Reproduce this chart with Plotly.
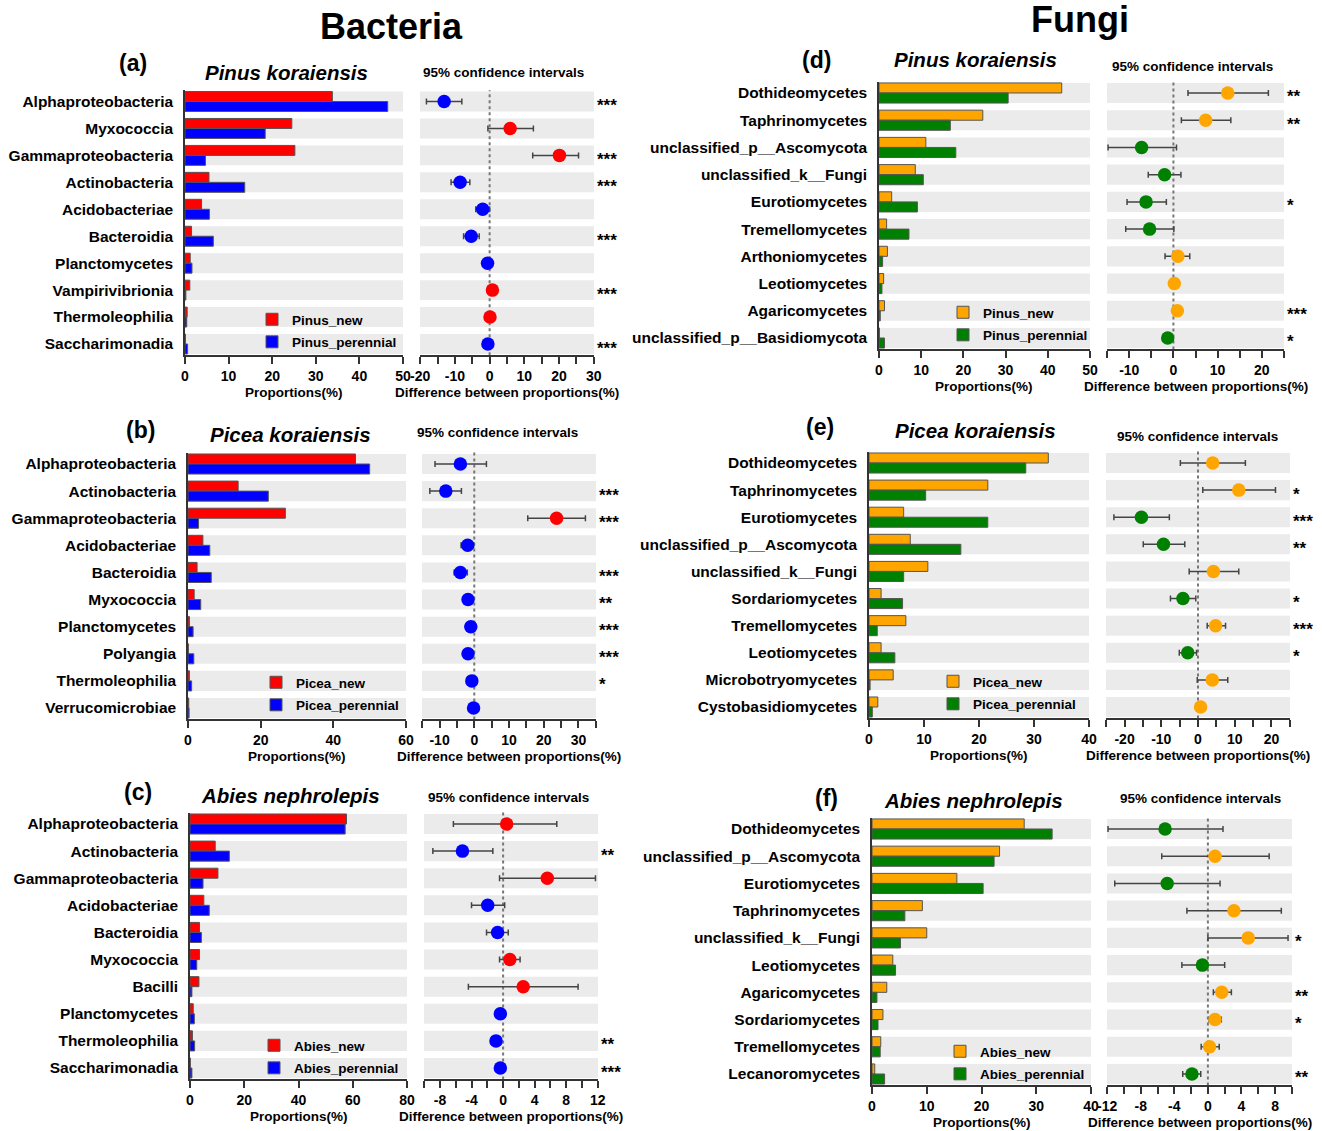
import plotly.graph_objects as go

W, H = 1322, 1131

# ---------------- data ----------------
a_cats = ["Alphaproteobacteria", "Myxococcia", "Gammaproteobacteria", "Actinobacteria", "Acidobacteriae",
          "Bacteroidia", "Planctomycetes", "Vampirivibrionia", "Thermoleophilia", "Saccharimonadia"]
a_new = [33.8, 24.5, 25.2, 5.5, 3.8, 1.5, 1.2, 1.1, 0.5, 0.1]
a_per = [46.5, 18.4, 4.7, 13.7, 5.6, 6.5, 1.6, 0.2, 0.4, 0.6]
a_diff = [-13.1, 5.9, 20.1, -8.5, -2.0, -5.3, -0.6, 0.8, 0.1, -0.5]
a_lo = [-18.2, -0.5, 12.4, -11.1, -4.0, -7.5, -0.9, 0.5, -0.2, -0.8]
a_hi = [-8.0, 12.6, 25.6, -5.7, 0.0, -3.0, -0.3, 1.1, 0.4, -0.2]
a_sig = ["***", "", "***", "***", "", "***", "", "***", "", "***"]

b_cats = ["Alphaproteobacteria", "Actinobacteria", "Gammaproteobacteria", "Acidobacteriae", "Bacteroidia",
          "Myxococcia", "Planctomycetes", "Polyangia", "Thermoleophilia", "Verrucomicrobiae"]
b_new = [46.1, 13.8, 26.8, 4.1, 2.5, 1.7, 0.4, 0.1, 0.4, 0.2]
b_per = [50.0, 22.1, 2.9, 6.0, 6.4, 3.5, 1.4, 1.6, 1.0, 0.3]
b_diff = [-4.0, -8.2, 23.7, -1.9, -4.0, -1.8, -1.0, -1.8, -0.7, -0.2]
b_lo = [-11.3, -12.8, 15.4, -3.8, -5.8, -2.1, -1.3, -2.1, -1.0, -0.4]
b_hi = [3.5, -3.7, 32.0, -0.2, -2.0, -1.5, -0.7, -1.5, -0.4, 0.0]
b_sig = ["", "***", "***", "", "***", "**", "***", "***", "*", ""]

c_cats = ["Alphaproteobacteria", "Actinobacteria", "Gammaproteobacteria", "Acidobacteriae", "Bacteroidia",
          "Myxococcia", "Bacilli", "Planctomycetes", "Thermoleophilia", "Saccharimonadia"]
c_new = [57.7, 9.3, 10.3, 5.1, 3.5, 3.5, 3.3, 1.2, 0.9, 0.1]
c_per = [57.2, 14.5, 4.8, 7.1, 4.2, 2.5, 0.7, 1.6, 1.7, 0.7]
c_diff = [0.45, -5.15, 5.6, -1.95, -0.7, 0.85, 2.55, -0.35, -0.9, -0.35]
c_lo = [-6.3, -8.9, -0.45, -4.0, -2.1, -0.45, -4.4, -0.6, -1.2, -0.55]
c_hi = [6.8, -1.3, 11.7, 0.2, 0.65, 2.15, 9.5, -0.1, -0.6, -0.15]
c_sig = ["", "**", "", "", "", "", "", "", "**", "***"]

d_cats = ["Dothideomycetes", "Taphrinomycetes", "unclassified_p__Ascomycota", "unclassified_k__Fungi",
          "Eurotiomycetes", "Tremellomycetes", "Arthoniomycetes", "Leotiomycetes", "Agaricomycetes",
          "unclassified_p__Basidiomycota"]
d_new = [43.3, 24.6, 11.1, 8.6, 3.0, 1.8, 2.0, 1.1, 1.3, 0.1]
d_per = [30.6, 16.9, 18.2, 10.5, 9.1, 7.1, 0.85, 0.7, 0.3, 1.3]
d_diff = [12.3, 7.3, -7.2, -2.0, -6.2, -5.4, 1.0, 0.2, 0.9, -1.3]
d_lo = [3.3, 1.8, -14.8, -5.7, -10.5, -10.8, -1.9, -0.1, 0.6, -1.6]
d_hi = [21.5, 13.0, 0.7, 1.7, -1.6, 0.1, 3.7, 0.5, 1.2, -1.0]
d_sig = ["**", "**", "", "", "*", "", "", "", "***", "*"]

e_cats = ["Dothideomycetes", "Taphrinomycetes", "Eurotiomycetes", "unclassified_p__Ascomycota",
          "unclassified_k__Fungi", "Sordariomycetes", "Tremellomycetes", "Leotiomycetes",
          "Microbotryomycetes", "Cystobasidiomycetes"]
e_new = [32.6, 21.6, 6.3, 7.5, 10.7, 2.2, 6.7, 2.2, 4.4, 1.6]
e_per = [28.5, 10.3, 21.6, 16.7, 6.3, 6.1, 1.5, 4.7, 0.2, 0.6]
e_diff = [4.0, 11.1, -15.4, -9.4, 4.2, -4.1, 4.8, -2.8, 3.9, 0.7]
e_lo = [-4.8, 1.3, -22.9, -14.9, -2.4, -7.5, 2.5, -5.1, -0.2, 0.4]
e_hi = [12.9, 21.1, -7.8, -3.6, 11.1, -0.6, 7.5, -0.4, 8.1, 1.0]
e_sig = ["", "*", "***", "**", "", "*", "***", "*", "", ""]

f_cats = ["Dothideomycetes", "unclassified_p__Ascomycota", "Eurotiomycetes", "Taphrinomycetes",
          "unclassified_k__Fungi", "Leotiomycetes", "Agaricomycetes", "Sordariomycetes",
          "Tremellomycetes", "Lecanoromycetes"]
f_new = [27.8, 23.3, 15.5, 9.2, 10.0, 3.8, 2.7, 2.0, 1.6, 0.5]
f_per = [32.9, 22.3, 20.3, 6.0, 5.2, 4.3, 0.9, 1.1, 1.5, 2.3]
f_diff = [-5.1, 0.85, -4.85, 3.1, 4.8, -0.65, 1.65, 0.85, 0.2, -1.9]
f_lo = [-11.9, -5.5, -11.1, -2.5, 0.0, -3.1, 0.65, 0.15, -0.8, -3.0]
f_hi = [1.8, 7.3, 1.45, 8.75, 9.55, 2.0, 2.8, 1.6, 1.35, -0.85]
f_sig = ["", "", "", "", "*", "", "**", "*", "", "**"]

BAC_NEW, BAC_PER = "#FF0000", "#0000FF"
FUN_NEW, FUN_PER = "#FFA500", "#008000"

panels = [
    dict(label="(a)", species="Pinus koraiensis", new="Pinus_new", per="Pinus_perennial",
         cats=a_cats, vnew=a_new, vper=a_per, diff=a_diff, lo=a_lo, hi=a_hi, sig=a_sig,
         cnew=BAC_NEW, cper=BAC_PER, brange=[0, 50], bdtick=10, crange=[-20, 30], cdtick=10, cminor=5,
         bx=(185, 403), cx=(420, 594), rows=(101.5, 344),
         lab_xy=(133, 63), sp_xy=(286, 72), ci_xy=(503, 73), leg=(292, 320)),
    dict(label="(b)", species="Picea koraiensis", new="Picea_new", per="Picea_perennial",
         cats=b_cats, vnew=b_new, vper=b_per, diff=b_diff, lo=b_lo, hi=b_hi, sig=b_sig,
         cnew=BAC_NEW, cper=BAC_PER, brange=[0, 60], bdtick=20, crange=[-15, 35], cdtick=10, cminor=5,
         bx=(188, 406), cx=(422, 596), rows=(464, 708),
         lab_xy=(140, 430), sp_xy=(290, 435), ci_xy=(497, 433), leg=(296, 683)),
    dict(label="(c)", species="Abies nephrolepis", new="Abies_new", per="Abies_perennial",
         cats=c_cats, vnew=c_new, vper=c_per, diff=c_diff, lo=c_lo, hi=c_hi, sig=c_sig,
         cnew=BAC_NEW, cper=BAC_PER, brange=[0, 80], bdtick=20, crange=[-10, 12], cdtick=4, cminor=2,
         bx=(190, 407), cx=(424, 598), rows=(824, 1068),
         lab_xy=(138, 792), sp_xy=(290, 795), ci_xy=(508, 797), leg=(294, 1046)),
    dict(label="(d)", species="Pinus koraiensis", new="Pinus_new", per="Pinus_perennial",
         cats=d_cats, vnew=d_new, vper=d_per, diff=d_diff, lo=d_lo, hi=d_hi, sig=d_sig,
         cnew=FUN_NEW, cper=FUN_PER, brange=[0, 50], bdtick=10, crange=[-15, 25], cdtick=10, cminor=5,
         bx=(879, 1090), cx=(1107, 1284), rows=(93, 338),
         lab_xy=(816, 60), sp_xy=(975, 60), ci_xy=(1192, 67), leg=(983, 313)),
    dict(label="(e)", species="Picea koraiensis", new="Picea_new", per="Picea_perennial",
         cats=e_cats, vnew=e_new, vper=e_per, diff=e_diff, lo=e_lo, hi=e_hi, sig=e_sig,
         cnew=FUN_NEW, cper=FUN_PER, brange=[0, 40], bdtick=10, crange=[-25, 25], cdtick=10, cminor=5,
         bx=(869, 1089), cx=(1106, 1290), rows=(463, 707),
         lab_xy=(820, 427), sp_xy=(975, 430), ci_xy=(1197, 436), leg=(973, 682)),
    dict(label="(f)", species="Abies nephrolepis", new="Abies_new", per="Abies_perennial",
         cats=f_cats, vnew=f_new, vper=f_per, diff=f_diff, lo=f_lo, hi=f_hi, sig=f_sig,
         cnew=FUN_NEW, cper=FUN_PER, brange=[0, 40], bdtick=10, crange=[-12, 10], cdtick=4, cminor=2,
         bx=(872, 1091), cx=(1107, 1292), rows=(829, 1074),
         lab_xy=(826, 798), sp_xy=(973, 800), ci_xy=(1200, 798), leg=(980, 1052)),
]

FONT = "Liberation Sans, Arial, sans-serif"
AX = "#333333"
BAND = "#EBEBEB"
HALF = 0.37   # half band height in row units
PAD = 0.42    # half range padding
TSZ = 13.5    # small title size

fig = go.Figure()
layout = dict(
    width=W, height=H, margin=dict(l=0, r=0, t=0, b=0, autoexpand=False),
    paper_bgcolor="white", plot_bgcolor="white",
    font=dict(family=FONT, color="black", size=13, weight="bold"),
    showlegend=True, barmode="overlay",
)
shapes, annotations = [], []


def px2x(px):
    return px / W


def px2y(py):
    return 1 - py / H


def fmt(v):
    return f"{v:g}"


for k, p in enumerate(panels):
    n = len(p["cats"])
    ib, ic = 2 * k + 1, 2 * k + 2
    xb = "x" if ib == 1 else f"x{ib}"
    yb = "y" if ib == 1 else f"y{ib}"
    xc, yc = f"x{ic}", f"y{ic}"
    r0, r1 = p["rows"]
    sp = (r1 - r0) / (n - 1)
    top, bot = r0 - PAD * sp, r1 + PAD * sp
    ydom = [px2y(bot), px2y(top)]
    pos = list(range(n))
    legname = "legend" if k == 0 else f"legend{k + 1}"

    # bars
    fig.add_trace(go.Bar(y=pos, x=p["vnew"], orientation="h", name=p["new"], width=HALF, offset=-HALF,
                         marker=dict(color=p["cnew"], line=dict(color="#555555", width=1)),
                         xaxis=xb, yaxis=yb, legend=legname, legendgroup=f"n{k}", hoverinfo="x+name"))
    fig.add_trace(go.Bar(y=pos, x=p["vper"], orientation="h", name=p["per"], width=HALF, offset=0,
                         marker=dict(color=p["cper"], line=dict(color="#555555", width=1)),
                         xaxis=xb, yaxis=yb, legend=legname, legendgroup=f"p{k}", hoverinfo="x+name"))
    # CI points
    cols = [p["cnew"] if d > 0 else p["cper"] for d in p["diff"]]
    fig.add_trace(go.Scatter(
        x=p["diff"], y=pos, mode="markers", showlegend=False, xaxis=xc, yaxis=yc,
        marker=dict(color=cols, size=13.5, line=dict(width=0)),
        error_x=dict(type="data", symmetric=False,
                     array=[h - d for h, d in zip(p["hi"], p["diff"])],
                     arrayminus=[d - l for d, l in zip(p["diff"], p["lo"])],
                     color="#444444", thickness=1.5, width=3)))

    yax = dict(domain=ydom, range=[n - 1 + PAD, -PAD], tickvals=pos, ticktext=p["cats"],
               showgrid=False, zeroline=False, fixedrange=True, automargin=False)
    layout["yaxis" if ib == 1 else f"yaxis{ib}"] = dict(
        yax, anchor=xb, showline=True, linecolor=AX, linewidth=1.5, ticks="",
        ticklabelstandoff=7, tickfont=dict(size=15.5, family=FONT, weight="bold"))
    layout[f"yaxis{ic}"] = dict(yax, anchor=xc, showticklabels=False, showline=False, ticks="")

    bt = list(range(p["brange"][0], p["brange"][1] + 1, p["bdtick"]))
    layout["xaxis" if ib == 1 else f"xaxis{ib}"] = dict(
        domain=[px2x(p["bx"][0]), px2x(p["bx"][1])], anchor=yb, range=p["brange"],
        tickvals=bt, ticktext=[fmt(v) for v in bt], automargin=False,
        showline=True, linecolor=AX, linewidth=1.5, ticks="outside",
        ticklen=7, tickwidth=1.5, tickcolor=AX, showgrid=False, zeroline=False,
        tickfont=dict(size=14, family=FONT, weight="bold"))
    lo_r, hi_r = p["crange"]
    ct = [v for v in range(lo_r, hi_r + 1) if v % p["cdtick"] == 0]
    eps = 0.001 * (hi_r - lo_r)
    layout[f"xaxis{ic}"] = dict(
        domain=[px2x(p["cx"][0]), px2x(p["cx"][1])], anchor=yc, automargin=False,
        range=[lo_r - eps, hi_r + eps], tickvals=ct, ticktext=[fmt(v) for v in ct],
        showline=True, linecolor=AX, linewidth=1.5, ticks="outside", ticklen=7, tickwidth=1.5,
        tickcolor=AX, showgrid=False, zeroline=False,
        minor=dict(tickvals=[v for v in range(lo_r, hi_r + 1) if v % p["cminor"] == 0],
                   ticks="outside", ticklen=7, tickwidth=1.5, tickcolor=AX),
        tickfont=dict(size=14, family=FONT, weight="bold"))

    # background bands
    for i in pos:
        for xr, yr in ((xb, yb), (xc, yc)):
            shapes.append(dict(type="rect", xref=f"{xr} domain", yref=yr, x0=0, x1=1,
                               y0=i - HALF, y1=i + HALF, fillcolor=BAND, line=dict(width=0),
                               layer="below"))
    # zero dashed line
    shapes.append(dict(type="line", xref=xc, yref=f"{yc} domain", x0=0, x1=0, y0=0, y1=1,
                       line=dict(color="#777777", width=2, dash="dot"), layer="below"))

    # significance stars
    for i, s in zip(pos, p["sig"]):
        if s:
            annotations.append(dict(text=s, xref=f"{xc} domain", yref=yc, x=1, y=i, xanchor="left",
                                    yanchor="middle", xshift=1, yshift=-4, showarrow=False,
                                    font=dict(size=17, family=FONT, weight="bold")))
    # axis titles
    annotations.append(dict(text="Proportions(%)", xref=f"{xb} domain", yref=f"{yb} domain", x=0.5, y=0,
                            xanchor="center", yanchor="middle", yshift=-37, showarrow=False,
                            font=dict(size=TSZ, family=FONT, weight="bold")))
    annotations.append(dict(text="Difference between proportions(%)", xref=f"{xc} domain",
                            yref=f"{yc} domain", x=0.5, y=0, xanchor="center", yanchor="middle",
                            yshift=-37, showarrow=False, font=dict(size=TSZ, family=FONT, weight="bold")))
    # panel titles
    annotations.append(dict(text=p["label"], xref="paper", yref="paper", x=px2x(p["lab_xy"][0]),
                            y=px2y(p["lab_xy"][1]), xanchor="center", yanchor="middle", showarrow=False,
                            font=dict(size=23, family=FONT, weight="bold")))
    annotations.append(dict(text=p["species"], xref="paper", yref="paper", x=px2x(p["sp_xy"][0]),
                            y=px2y(p["sp_xy"][1]), xanchor="center", yanchor="middle", showarrow=False,
                            font=dict(size=20.5, family=FONT, weight="bold", style="italic")))
    annotations.append(dict(text="95% confidence intervals", xref="paper", yref="paper",
                            x=px2x(p["ci_xy"][0]), y=px2y(p["ci_xy"][1]), xanchor="center",
                            yanchor="middle", showarrow=False,
                            font=dict(size=TSZ, family=FONT, weight="bold")))
    # legend
    layout[legname] = dict(x=px2x(p["leg"][0] - 40), y=px2y(p["leg"][1] - 16), xanchor="left",
                           yanchor="top", bgcolor="rgba(0,0,0,0)", tracegroupgap=2,
                           font=dict(size=13.5, family=FONT, weight="bold"))

annotations.append(dict(text="Bacteria", xref="paper", yref="paper", x=px2x(391), y=px2y(27),
                        xanchor="center", yanchor="middle", showarrow=False,
                        font=dict(size=36, family=FONT, weight="bold")))
annotations.append(dict(text="Fungi", xref="paper", yref="paper", x=px2x(1080), y=px2y(20),
                        xanchor="center", yanchor="middle", showarrow=False,
                        font=dict(size=36, family=FONT, weight="bold")))

layout["shapes"] = shapes
layout["annotations"] = annotations
fig.update_layout(**layout)
fig.write_html("out.html")
